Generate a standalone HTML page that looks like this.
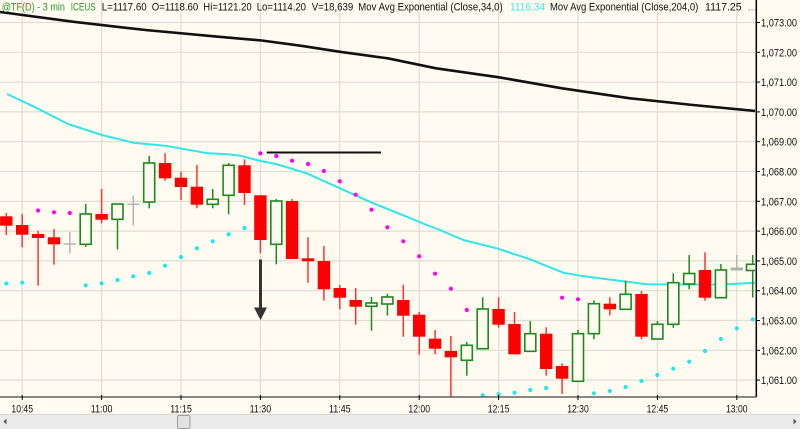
<!DOCTYPE html>
<html><head><meta charset="utf-8"><style>
html,body{margin:0;padding:0;background:#FFFBF0;}
svg{display:block;font-family:"Liberation Sans",Arial,sans-serif;}
</style></head><body>
<svg width="800" height="429" viewBox="0 0 800 429" xmlns="http://www.w3.org/2000/svg">
<defs><clipPath id="pc"><rect x="0" y="0" width="755" height="397"/></clipPath></defs>
<rect x="0" y="0" width="800" height="429" fill="#FFFBF0"/>
<!-- grid -->
<g stroke="#E0DDD5" stroke-width="1.2">
<line x1="0" y1="22.5" x2="756" y2="22.5"/><line x1="0" y1="52.3" x2="756" y2="52.3"/><line x1="0" y1="82.1" x2="756" y2="82.1"/><line x1="0" y1="111.9" x2="756" y2="111.9"/><line x1="0" y1="141.7" x2="756" y2="141.7"/><line x1="0" y1="171.5" x2="756" y2="171.5"/><line x1="0" y1="201.3" x2="756" y2="201.3"/><line x1="0" y1="231.1" x2="756" y2="231.1"/><line x1="0" y1="260.9" x2="756" y2="260.9"/><line x1="0" y1="290.7" x2="756" y2="290.7"/><line x1="0" y1="320.5" x2="756" y2="320.5"/><line x1="0" y1="350.3" x2="756" y2="350.3"/><line x1="0" y1="380.1" x2="756" y2="380.1"/>
<line x1="22.2" y1="0" x2="22.2" y2="397"/><line x1="101.6" y1="0" x2="101.6" y2="397"/><line x1="181" y1="0" x2="181" y2="397"/><line x1="260.4" y1="0" x2="260.4" y2="397"/><line x1="339.8" y1="0" x2="339.8" y2="397"/><line x1="419.2" y1="0" x2="419.2" y2="397"/><line x1="498.6" y1="0" x2="498.6" y2="397"/><line x1="578" y1="0" x2="578" y2="397"/><line x1="657.4" y1="0" x2="657.4" y2="397"/><line x1="736.8" y1="0" x2="736.8" y2="397"/>
</g>
<g clip-path="url(#pc)">
<!-- EMA 204 black -->
<polyline fill="none" stroke="#111" stroke-width="2.6" stroke-linejoin="round" points="0,12 72.7,21.7 145.4,30 218,36.7 261.7,40.5 300.5,45.7 339.3,51.7 387.8,58.3 436,68.3 499,77.3 562,88.3 630,98.3 693,105 756,111"/>
<!-- EMA 34 cyan -->
<polyline fill="none" stroke="#2FE6EA" stroke-width="2" stroke-linejoin="round" points="7,94 34,106.7 68,124 102,135 133,142.7 165,145.7 208,153.3 228,154.3 240,155.7 260.7,161 276,164 306.7,173.3 340,188.3 373.3,203.3 406.7,216.7 426.7,225 440,230 463.3,240 496.7,248.3 530,259.3 563.3,272.7 580,275.7 613.3,280 646.7,284.3 690,284.5 720,284.5 756,282.8"/>
<!-- horizontal black line -->
<line x1="266.7" y1="152.5" x2="381" y2="152.5" stroke="#111" stroke-width="2"/>
<!-- red wicks -->
<g stroke="#F33" stroke-width="1.5">
<line x1="6.3" y1="213" x2="6.3" y2="235"/><line x1="22.2" y1="214" x2="22.2" y2="247.3"/><line x1="38.1" y1="230.7" x2="38.1" y2="285.7"/><line x1="54" y1="229" x2="54" y2="264.7"/><line x1="101.6" y1="189" x2="101.6" y2="223.3"/><line x1="165.1" y1="153.3" x2="165.1" y2="180.7"/><line x1="181" y1="171.7" x2="181" y2="200"/><line x1="196.9" y1="165" x2="196.9" y2="208.3"/><line x1="244.5" y1="159.3" x2="244.5" y2="205"/><line x1="260.4" y1="195" x2="260.4" y2="253.3"/><line x1="292.1" y1="199" x2="292.1" y2="259"/><line x1="308" y1="237.3" x2="308" y2="282.7"/><line x1="323.9" y1="246" x2="323.9" y2="300.7"/><line x1="339.8" y1="285" x2="339.8" y2="309.3"/><line x1="355.7" y1="288" x2="355.7" y2="324.7"/><line x1="403.3" y1="284.7" x2="403.3" y2="336.7"/><line x1="419.2" y1="312" x2="419.2" y2="354.7"/><line x1="435.1" y1="330" x2="435.1" y2="354.3"/><line x1="450.9" y1="336" x2="450.9" y2="397"/><line x1="498.6" y1="297.3" x2="498.6" y2="327.7"/><line x1="514.5" y1="312" x2="514.5" y2="354.3"/><line x1="546.2" y1="327.3" x2="546.2" y2="375.7"/><line x1="562.1" y1="363.3" x2="562.1" y2="394"/><line x1="609.8" y1="297.3" x2="609.8" y2="315.3"/><line x1="641.5" y1="291" x2="641.5" y2="339.3"/><line x1="705" y1="252.3" x2="705" y2="300.7"/>
</g>
<!-- red bodies -->
<g fill="#F00">
<rect x="0.1" y="216.3" width="12.4" height="9.4"/><rect x="16" y="225" width="12.4" height="9.7"/><rect x="31.9" y="234" width="12.4" height="4"/><rect x="47.8" y="237.3" width="12.4" height="7"/><rect x="95.4" y="214" width="12.4" height="5.7"/><rect x="158.9" y="163" width="12.4" height="15.3"/><rect x="174.8" y="177.7" width="12.4" height="9.3"/><rect x="190.7" y="186.7" width="12.4" height="18"/><rect x="238.3" y="165.3" width="12.4" height="27.7"/><rect x="254.2" y="195.3" width="12.4" height="44.7"/><rect x="285.9" y="201" width="12.4" height="58"/><rect x="301.8" y="258.3" width="12.4" height="3"/><rect x="317.7" y="261" width="12.4" height="28.3"/><rect x="333.6" y="288" width="12.4" height="9.7"/><rect x="349.5" y="300" width="12.4" height="6.7"/><rect x="397.1" y="300" width="12.4" height="15.7"/><rect x="413" y="314.7" width="12.4" height="22"/><rect x="428.9" y="338.7" width="12.4" height="10"/><rect x="444.7" y="351" width="12.4" height="6.3"/><rect x="492.4" y="309" width="12.4" height="15.7"/><rect x="508.3" y="324" width="12.4" height="30.3"/><rect x="540" y="333.7" width="12.4" height="35.3"/><rect x="555.9" y="366" width="12.4" height="12.7"/><rect x="603.6" y="303.7" width="12.4" height="5.6"/><rect x="635.3" y="294" width="12.4" height="42.7"/><rect x="698.8" y="270" width="12.4" height="27.7"/>
</g>
<!-- green wicks -->
<g stroke="#1C8A1C" stroke-width="1.5">
<line x1="85.7" y1="204" x2="85.7" y2="247"/><line x1="117.5" y1="204" x2="117.5" y2="249.3"/><line x1="149.2" y1="156" x2="149.2" y2="208.3"/><line x1="212.7" y1="189" x2="212.7" y2="208.3"/><line x1="228.6" y1="163" x2="228.6" y2="214.3"/><line x1="276.3" y1="199" x2="276.3" y2="264.3"/><line x1="371.5" y1="297" x2="371.5" y2="330.7"/><line x1="387.4" y1="293.7" x2="387.4" y2="315.7"/><line x1="466.8" y1="342" x2="466.8" y2="375.7"/><line x1="482.7" y1="297.3" x2="482.7" y2="348.7"/><line x1="530.3" y1="321" x2="530.3" y2="351.3"/><line x1="578" y1="330" x2="578" y2="381.3"/><line x1="593.9" y1="300.3" x2="593.9" y2="339.3"/><line x1="625.6" y1="280.7" x2="625.6" y2="309.3"/><line x1="657.4" y1="321" x2="657.4" y2="339"/><line x1="673.3" y1="273.3" x2="673.3" y2="327.7"/><line x1="689.2" y1="255" x2="689.2" y2="289.3"/><line x1="720.9" y1="264" x2="720.9" y2="297.7"/><line x1="752.7" y1="255" x2="752.7" y2="297.5"/>
</g>
<!-- green hollow bodies -->
<g fill="#FFFBF0" stroke="#1C8A1C" stroke-width="1.6">
<rect x="80.2" y="214" width="11" height="30.3"/><rect x="112" y="204" width="11" height="15.3"/><rect x="143.7" y="163" width="11" height="39"/><rect x="207.2" y="199.3" width="11" height="5"/><rect x="223.1" y="165.3" width="11" height="30"/><rect x="270.8" y="201" width="11" height="43.3"/><rect x="366" y="303" width="11" height="3.3"/><rect x="381.9" y="297" width="11" height="7"/><rect x="461.3" y="345.3" width="11" height="15"/><rect x="477.2" y="309" width="11" height="39.7"/><rect x="524.8" y="333.7" width="11" height="17.6"/><rect x="572.5" y="333.7" width="11" height="47.6"/><rect x="588.4" y="303.7" width="11" height="30"/><rect x="620.1" y="294.3" width="11" height="15"/><rect x="651.9" y="324.3" width="11" height="14.7"/><rect x="667.8" y="282.7" width="11" height="41.6"/><rect x="683.7" y="273.5" width="11" height="10.5"/><rect x="715.4" y="270" width="11" height="27.7"/><rect x="746.5" y="264.3" width="11" height="6.2"/>
</g>
<!-- doji -->
<g stroke="#B4B4B4" stroke-width="1.5">
<line x1="69.8" y1="232" x2="69.8" y2="253.3"/><line x1="63.6" y1="244" x2="76" y2="244"/>
<line x1="133.3" y1="195.3" x2="133.3" y2="225.7"/><line x1="127.1" y1="204.3" x2="139.5" y2="204.3"/>
<line x1="736.8" y1="255" x2="736.8" y2="268"/>
</g>
<rect x="730.6" y="267.5" width="12.4" height="3" fill="#B0B0B0"/>
<!-- magenta dots -->
<g fill="#FF00FF">
<circle cx="38.1" cy="210.5" r="2.1"/><circle cx="54" cy="212.3" r="2.1"/><circle cx="69.8" cy="213" r="2.1"/><circle cx="260.4" cy="153.3" r="2.1"/><circle cx="276.3" cy="156" r="2.1"/><circle cx="292.1" cy="160.7" r="2.1"/><circle cx="308" cy="164" r="2.1"/><circle cx="323.9" cy="171" r="2.1"/><circle cx="339.8" cy="181.3" r="2.1"/><circle cx="355.7" cy="194.7" r="2.1"/><circle cx="371.5" cy="209.7" r="2.1"/><circle cx="387.4" cy="227.3" r="2.1"/><circle cx="403.3" cy="241.3" r="2.1"/><circle cx="419.2" cy="256.3" r="2.1"/><circle cx="435.1" cy="273.7" r="2.1"/><circle cx="450.9" cy="288.7" r="2.1"/><circle cx="466.8" cy="310" r="2.1"/><circle cx="562.1" cy="297.7" r="2.1"/><circle cx="578" cy="299.3" r="2.1"/>
</g>
<!-- cyan dots -->
<g fill="#1EE8F0">
<circle cx="6.3" cy="283.5" r="2.1"/><circle cx="22.2" cy="282.7" r="2.1"/><circle cx="85.7" cy="285.3" r="2.1"/><circle cx="101.6" cy="283.3" r="2.1"/><circle cx="117.5" cy="280" r="2.1"/><circle cx="133.3" cy="276.3" r="2.1"/><circle cx="149.2" cy="273" r="2.1"/><circle cx="165.1" cy="265.7" r="2.1"/><circle cx="181" cy="257" r="2.1"/><circle cx="196.9" cy="248.3" r="2.1"/><circle cx="212.7" cy="241.3" r="2.1"/><circle cx="228.6" cy="234.3" r="2.1"/><circle cx="244.5" cy="228" r="2.1"/><circle cx="482.7" cy="395.3" r="2.1"/><circle cx="498.6" cy="394.3" r="2.1"/><circle cx="514.5" cy="392.7" r="2.1"/><circle cx="530.3" cy="390" r="2.1"/><circle cx="546.2" cy="388" r="2.1"/><circle cx="593.9" cy="393.3" r="2.1"/><circle cx="609.8" cy="391" r="2.1"/><circle cx="625.6" cy="387" r="2.1"/><circle cx="641.5" cy="381" r="2.1"/><circle cx="657.4" cy="375" r="2.1"/><circle cx="673.3" cy="368.7" r="2.1"/><circle cx="689.2" cy="361.7" r="2.1"/><circle cx="705" cy="351" r="2.1"/><circle cx="720.9" cy="339" r="2.1"/><circle cx="736.8" cy="328.3" r="2.1"/><circle cx="752.7" cy="319.3" r="2.1"/>
</g>
<!-- arrow -->
<line x1="260.5" y1="259.5" x2="260.5" y2="309" stroke="#333" stroke-width="3"/>
<polygon points="254,307.5 267,307.5 260.5,320" fill="#333"/>
</g>
<!-- axes -->
<line x1="756.3" y1="0" x2="756.3" y2="397" stroke="#000" stroke-width="1.5"/>
<line x1="0" y1="397" x2="756.3" y2="397" stroke="#444" stroke-width="1.2"/>
<g stroke="#000" stroke-width="1">
<line x1="756" y1="22.5" x2="760" y2="22.5"/><line x1="756" y1="52.3" x2="760" y2="52.3"/><line x1="756" y1="82.1" x2="760" y2="82.1"/><line x1="756" y1="111.9" x2="760" y2="111.9"/><line x1="756" y1="141.7" x2="760" y2="141.7"/><line x1="756" y1="171.5" x2="760" y2="171.5"/><line x1="756" y1="201.3" x2="760" y2="201.3"/><line x1="756" y1="231.1" x2="760" y2="231.1"/><line x1="756" y1="260.9" x2="760" y2="260.9"/><line x1="756" y1="290.7" x2="760" y2="290.7"/><line x1="756" y1="320.5" x2="760" y2="320.5"/><line x1="756" y1="350.3" x2="760" y2="350.3"/><line x1="756" y1="380.1" x2="760" y2="380.1"/>
<line x1="22.2" y1="395" x2="22.2" y2="400"/><line x1="101.6" y1="395" x2="101.6" y2="400"/><line x1="181" y1="395" x2="181" y2="400"/><line x1="260.4" y1="395" x2="260.4" y2="400"/><line x1="339.8" y1="395" x2="339.8" y2="400"/><line x1="419.2" y1="395" x2="419.2" y2="400"/><line x1="498.6" y1="395" x2="498.6" y2="400"/><line x1="578" y1="395" x2="578" y2="400"/><line x1="657.4" y1="395" x2="657.4" y2="400"/><line x1="736.8" y1="395" x2="736.8" y2="400"/>
</g>
<!-- price labels -->
<g font-size="11" fill="#111">
<text x="761" y="26.5" textLength="36" lengthAdjust="spacingAndGlyphs">1,073.00</text>
<text x="761" y="56.3" textLength="36" lengthAdjust="spacingAndGlyphs">1,072.00</text>
<text x="761" y="86.1" textLength="36" lengthAdjust="spacingAndGlyphs">1,071.00</text>
<text x="761" y="115.9" textLength="36" lengthAdjust="spacingAndGlyphs">1,070.00</text>
<text x="761" y="145.7" textLength="36" lengthAdjust="spacingAndGlyphs">1,069.00</text>
<text x="761" y="175.5" textLength="36" lengthAdjust="spacingAndGlyphs">1,068.00</text>
<text x="761" y="205.3" textLength="36" lengthAdjust="spacingAndGlyphs">1,067.00</text>
<text x="761" y="235.1" textLength="36" lengthAdjust="spacingAndGlyphs">1,066.00</text>
<text x="761" y="264.9" textLength="36" lengthAdjust="spacingAndGlyphs">1,065.00</text>
<text x="761" y="294.7" textLength="36" lengthAdjust="spacingAndGlyphs">1,064.00</text>
<text x="761" y="324.5" textLength="36" lengthAdjust="spacingAndGlyphs">1,063.00</text>
<text x="761" y="354.3" textLength="36" lengthAdjust="spacingAndGlyphs">1,062.00</text>
<text x="761" y="384.1" textLength="36" lengthAdjust="spacingAndGlyphs">1,061.00</text>
</g>
<!-- time labels -->
<g font-size="11" fill="#111">
<text x="11.4" y="412.5" textLength="21.6" lengthAdjust="spacingAndGlyphs">10:45</text>
<text x="90.8" y="412.5" textLength="21.6" lengthAdjust="spacingAndGlyphs">11:00</text>
<text x="170.2" y="412.5" textLength="21.6" lengthAdjust="spacingAndGlyphs">11:15</text>
<text x="249.6" y="412.5" textLength="21.6" lengthAdjust="spacingAndGlyphs">11:30</text>
<text x="329" y="412.5" textLength="21.6" lengthAdjust="spacingAndGlyphs">11:45</text>
<text x="408.4" y="412.5" textLength="21.6" lengthAdjust="spacingAndGlyphs">12:00</text>
<text x="487.8" y="412.5" textLength="21.6" lengthAdjust="spacingAndGlyphs">12:15</text>
<text x="567.2" y="412.5" textLength="21.6" lengthAdjust="spacingAndGlyphs">12:30</text>
<text x="646.6" y="412.5" textLength="21.6" lengthAdjust="spacingAndGlyphs">12:45</text>
<text x="726" y="412.5" textLength="21.6" lengthAdjust="spacingAndGlyphs">13:00</text>
</g>
<!-- header -->
<g font-size="11">
<text x="1.7" y="10.5" fill="#2B9B2B" textLength="63.3" lengthAdjust="spacingAndGlyphs">@TF(D) - 3 min</text>
<text x="70.7" y="10.5" fill="#2B9B2B" textLength="25" lengthAdjust="spacingAndGlyphs">ICEUS</text>
<text x="101.7" y="10.5" fill="#111" textLength="45" lengthAdjust="spacingAndGlyphs">L=1117.60</text>
<text x="151.7" y="10.5" fill="#111" textLength="46.6" lengthAdjust="spacingAndGlyphs">O=1118.60</text>
<text x="203.3" y="10.5" fill="#111" textLength="48.4" lengthAdjust="spacingAndGlyphs">Hi=1121.20</text>
<text x="256.7" y="10.5" fill="#111" textLength="49.3" lengthAdjust="spacingAndGlyphs">Lo=1114.20</text>
<text x="311.7" y="10.5" fill="#111" textLength="41.6" lengthAdjust="spacingAndGlyphs">V=18,639</text>
<text x="358.3" y="10.5" fill="#111" textLength="144.4" lengthAdjust="spacingAndGlyphs">Mov Avg Exponential (Close,34,0)</text>
<text x="510" y="10.5" fill="#3EE8EE" textLength="35" lengthAdjust="spacingAndGlyphs">1116.34</text>
<text x="550" y="10.5" fill="#111" textLength="148.3" lengthAdjust="spacingAndGlyphs">Mov Avg Exponential (Close,204,0)</text>
<text x="705" y="10.5" fill="#111" textLength="36.7" lengthAdjust="spacingAndGlyphs">1117.25</text>
<text x="747.5" y="10.5" fill="#777">...</text>
</g>
<!-- scrollbar -->
<rect x="0" y="414" width="800" height="15" fill="#EBEBEB"/>
<line x1="0" y1="414.5" x2="800" y2="414.5" stroke="#D8D8D8" stroke-width="1"/>
<polygon points="6.5,418.5 6.5,424.5 3.5,421.5" fill="#555"/>
<polygon points="793.5,418.5 793.5,424.5 796.5,421.5" fill="#555"/>
<rect x="177.5" y="415.5" width="12.5" height="13" rx="1.5" fill="#E2E2E2" stroke="#9C9C9C" stroke-width="1"/>
</svg>
</body></html>
